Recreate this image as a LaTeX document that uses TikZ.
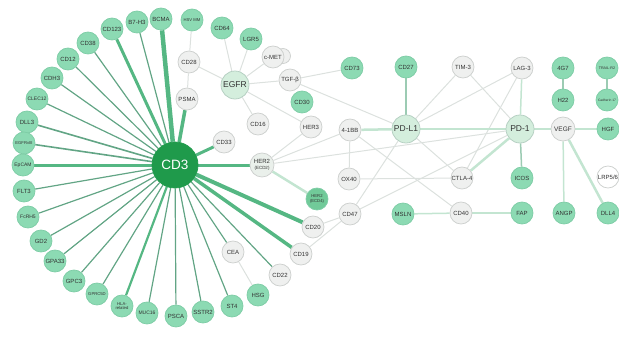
\documentclass[tikz,border=0pt]{standalone}
\usepackage{fontspec}
\setmainfont{Liberation Sans}
\usepackage{tikz}
\usetikzlibrary{backgrounds}
\definecolor{cdgreen}{HTML}{1F9A4B}
\definecolor{mint}{HTML}{8CDAB3}
\definecolor{mintline}{HTML}{7ECDA6}
\definecolor{pale}{HTML}{EFF0EF}
\definecolor{paleline}{HTML}{CDD0CE}
\definecolor{hubfill}{HTML}{D4EEDD}
\definecolor{spokegreen}{HTML}{62A585}
\definecolor{boldgreen}{HTML}{55B783}
\definecolor{faint}{HTML}{DCE1DE}
\definecolor{faintgreen}{HTML}{C3E5D1}
\tikzset{every picture/.style={line width=0.75pt}}

\begin{document}
\begin{tikzpicture}[x=1pt,y=-1pt,
        tgt/.style={circle,draw=mintline,fill=mint,minimum size=22pt,inner sep=0pt,align=center,text=black!80,font=\fontsize{6}{6.5}\selectfont},
        alt/.style={tgt,draw=paleline,fill=pale},
        hub/.style={tgt,draw=paleline!70!mintline,fill=hubfill,minimum size=28pt,font=\fontsize{8.5}{9}\selectfont},
        smalltext/.style={font=\fontsize{4.2}{4.6}\selectfont},
        spoke/.style={draw=spokegreen,line width=1.2pt},
        heavy/.style={draw=boldgreen},
        link/.style={draw=faint,line width=1pt},
        glink/.style={draw=faintgreen,line width=1.5pt}]
        \useasboundingbox (0,0) rectangle (619,345);
        \node[tgt,minimum size=46pt,fill=cdgreen,draw=cdgreen,text=white,font=\fontsize{13.5}{14}\selectfont] (cd3) at (175,165) {CD3};
        \node[tgt,smalltext] (hsv) at (192,20) {HSV MM};
        \node[tgt] (bcma) at (161,19) {BCMA};
        \node[tgt] (b7h3) at (137,22) {B7-H3};
        \node[tgt] (cd123) at (112,29) {CD123};
        \node[tgt] (cd38) at (88,43) {CD38};
        \node[tgt] (cd12) at (68,59) {CD12};
        \node[tgt] (cdh3) at (52,78) {CDH3};
        \node[tgt,font=\fontsize{5}{5.5}\selectfont] (clec12) at (37,99) {CLEC12};
        \node[tgt] (dll3) at (27,122) {DLL3};
        \node[tgt,smalltext] (egfrv) at (24,143) {EGFRvIII};
        \node[tgt,font=\fontsize{5}{5.5}\selectfont] (epcam) at (23,165) {EpCAM};
        \node[tgt] (flt3) at (24,191) {FLT3};
        \node[tgt,font=\fontsize{5}{5.5}\selectfont] (fcrh5) at (28,217) {FcRH5};
        \node[tgt] (gd2) at (41,241) {GD2};
        \node[tgt] (gpa33) at (55,261) {GPA33};
        \node[tgt] (gpc3) at (74,281) {GPC3};
        \node[tgt,smalltext] (gprc5d) at (97,294) {GPRC5D};
        \node[tgt,smalltext] (hla) at (122,306) {HLA-\\related};
        \node[tgt,font=\fontsize{5}{5.5}\selectfont] (muc16) at (147,313) {MUC16};
        \node[tgt] (psca) at (176,316) {PSCA};
        \node[tgt] (sstr2) at (203,312) {SSTR2};
        \node[tgt] (st4) at (232,306) {ST4};
        \node[tgt] (hsg) at (258,295) {HSG};
        \node[alt] (cea) at (233,252) {CEA};
        \node[alt] (cd22) at (280,275) {CD22};
        \node[alt] (cd19) at (301,254) {CD19};
        \node[alt] (cd20) at (313,227) {CD20};
        \node[tgt,smalltext,fill=mint!75!cdgreen] (her2d) at (317,199) {HER2\\(ECD4)};
        \node[alt,minimum size=24pt,fill=pale!80!hubfill] (her2b) at (262,165) {HER2\\{\fontsize{4.5}{5}\selectfont(ECD2)}};
        \node[alt] (cd33) at (224,142) {CD33};
        \node[alt] (psma) at (187,99) {PSMA};
        \node[alt] (cd28) at (189,62) {CD28};
        \node[tgt] (cd64) at (222,28) {CD64};
        \node[tgt] (lgr5) at (251,39) {LGR5};
        \node[alt,minimum size=15pt] (cmetb) at (283,56) {};
        \node[alt] (cmet) at (273,57) {c-MET};
        \node[hub] (egfr) at (235,85) {EGFR};
        \node[alt] (tgfb) at (290,80) {TGF-β};
        \node[tgt] (cd30) at (302,102) {CD30};
        \node[alt] (cd16) at (258,124) {CD16};
        \node[alt] (her3) at (311,127) {HER3};
        \node[tgt] (cd73) at (352,68) {CD73};
        \node[alt] (fourbb) at (350,130) {4-1BB};
        \node[alt] (ox40) at (349,179) {OX40};
        \node[alt] (cd47) at (350,214) {CD47};
        \node[tgt] (msln) at (403,214) {MSLN};
        \node[hub] (pdl1) at (406,129) {PD-L1};
        \node[tgt] (cd27) at (406,67) {CD27};
        \node[alt] (tim3) at (463,67) {TIM-3};
        \node[alt] (lag3) at (522,68) {LAG-3};
        \node[hub] (pd1) at (520,129) {PD-1};
        \node[alt] (ctla4) at (462,178) {CTLA-4};
        \node[tgt] (icos) at (522,178) {ICOS};
        \node[alt] (cd40) at (461,213) {CD40};
        \node[tgt] (fap) at (522,213) {FAP};
        \node[alt,minimum size=24pt,font=\fontsize{6.5}{7}\selectfont] (vegf) at (563,129) {VEGF};
        \node[tgt] (gsev) at (563,68) {4G7};
        \node[tgt] (h22) at (563,100) {H22};
        \node[tgt,font=\fontsize{3.7}{4}\selectfont] (trail) at (607,68) {TRAIL-R2};
        \node[tgt,font=\fontsize{3.3}{4}\selectfont] (cdh17) at (607,100) {Cadherin 17};
        \node[tgt] (hgf) at (608,129) {HGF};
        \node[alt,fill=white] (lrp) at (608,177) {LRP5/6};
        \node[tgt] (angp) at (564,213) {ANGP};
        \node[tgt] (dll4) at (608,213) {DLL4};

        \begin{scope}[on background layer]
        \draw[spoke]
            (cd3) edge[heavy,line width=4.5pt] (bcma)
            (cd3) edge (b7h3)
            (cd3) edge[heavy,line width=3pt] (cd123)
            (cd3) edge (cd38)
            (cd3) edge (cd12)
            (cd3) edge (cdh3)
            (cd3) edge (clec12)
            (cd3) edge[line width=1.6pt] (dll3)
            (cd3) edge[line width=1.6pt] (egfrv)
            (cd3) edge[heavy,line width=3pt] (epcam)
            (cd3) edge (flt3)
            (cd3) edge (fcrh5)
            (cd3) edge (gd2)
            (cd3) edge (gpa33)
            (cd3) edge (gpc3)
            (cd3) edge (gprc5d)
            (cd3) edge[heavy,line width=2.2pt] (hla)
            (cd3) edge (muc16)
            (cd3) edge (psca)
            (cd3) edge (sstr2)
            (cd3) edge (st4)
            (cd3) edge (cea)
            (cd3) edge (cd22)
            (cd3) edge[heavy,line width=3.5pt] (cd19)
            (cd3) edge[heavy,line width=4pt] (cd20)
            (cd3) edge[heavy,line width=3pt] (her2b)
            (cd3) edge[heavy,line width=3pt] (cd33)
            (cd3) edge[heavy,line width=3.5pt] (psma)
            ;
        \draw[link]
            (hsv) edge (cd28)
            (cd28) edge (psma)
            (cd28) edge (egfr)
            (cd64) edge (egfr)
            (lgr5) edge (egfr)
            (cmet) edge (egfr)
            (tgfb) edge (egfr)
            (egfr) edge (cd16)
            (egfr) edge (her3)
            (tgfb) edge (cd73)
            (tgfb) edge (pdl1)
            (her2b) edge (her3)
            (her2b) edge (fourbb)
            (her2b) edge (pd1)
            (fourbb) edge (ox40)
            (fourbb) edge (cd40)
            (ox40) edge (ctla4)
            (cd47) edge (pdl1)
            (cd47) edge (pd1)
            (cd47) edge (cd20)
            (cd47) edge (cd19)
            (pdl1) edge (tim3)
            (pdl1) edge (lag3)
            (pdl1) edge (ctla4)
            (tim3) edge (pd1)
            (lag3) edge (ctla4)
            (cea) edge (hsg)
            ;
        \draw[glink]
            (fourbb) edge[line width=2.5pt] (pdl1)
            (pdl1) edge[line width=2.5pt] (pd1)
            (pd1) edge[line width=2.5pt] (ctla4)
            (her2b) edge[line width=2.5pt] (her2d)
            (cd27) edge[draw=faintgreen!60!spokegreen] (pdl1)
            (lag3) edge (pd1)
            (pd1) edge[draw=faintgreen!60!spokegreen] (icos)
            (pd1) edge (vegf)
            (msln) edge (cd40)
            (cd40) edge (fap)
            (vegf) edge (hgf)
            (vegf) edge (angp)
            (vegf) edge[line width=2.5pt] (dll4)
            (gsev) edge[draw=faintgreen!60!spokegreen] (h22)
            (trail) edge[draw=faintgreen!60!spokegreen] (cdh17)
            ;
        \end{scope}
    \end{tikzpicture}
\end{document}
